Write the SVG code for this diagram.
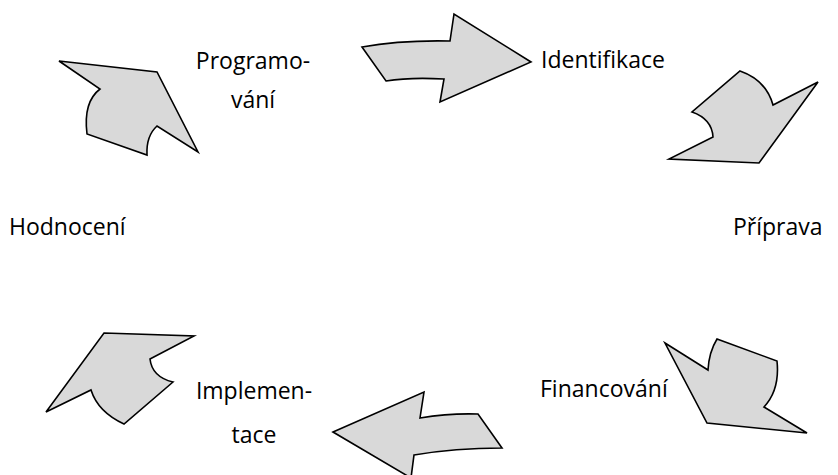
<svg xmlns="http://www.w3.org/2000/svg" width="838" height="475" viewBox="0 0 838 475">
<style>
.arr{fill:#d9d9d9;stroke:#000;stroke-width:1.6;stroke-linejoin:miter}
.lbl{font-family:"Open Sans","Liberation Sans",sans-serif;font-size:23px;fill:#000}
</style>
<rect width="838" height="475" fill="#fff"/>
<g id="connectors">
<path class="arr" d="M59,61 L157,72 L198,152 L157,126 Q146,136 147,155 L87,134 Q83,102 100,89 Z"/>
<path class="arr" d="M362,47 Q400,40 450,41 L454,14 L531,62 L440,102 L444,79 Q410,77 386,81 Z"/>
<path class="arr" d="M740,71 Q766,80 773,105 L818,82 L759,163 L669,159 L713,137 Q712,119 692,112 Z"/>
<path class="arr" d="M665,343 L708,370 Q709,352 717,339 L777,361 Q780,390 764,407 L807,433 L707,423 Z"/>
<path class="arr" d="M333,432 L424,392 L420,418 Q450,413 478,414 L502,448 Q455,448 414,455 L411,478 Z"/>
<path class="arr" d="M104,333 L194,336 L150,359 Q152,377 173,382 L124,424 Q98,412 91,390 L46,412 Z"/>
</g>
<g id="programovani"><text class="lbl" x="253" y="69" text-anchor="middle">Programo-</text><text class="lbl" x="253" y="108" text-anchor="middle">vání</text></g>
<g id="identifikace"><text class="lbl" x="541" y="68">Identifikace</text></g>
<g id="priprava"><text class="lbl" x="733" y="235">Příprava</text></g>
<g id="financovani"><text class="lbl" x="540" y="397">Financování</text></g>
<g id="implementace"><text class="lbl" x="254" y="399" text-anchor="middle">Implemen-</text><text class="lbl" x="254" y="443" text-anchor="middle">tace</text></g>
<g id="hodnoceni"><text class="lbl" x="9" y="235">Hodnocení</text></g>
</svg>
